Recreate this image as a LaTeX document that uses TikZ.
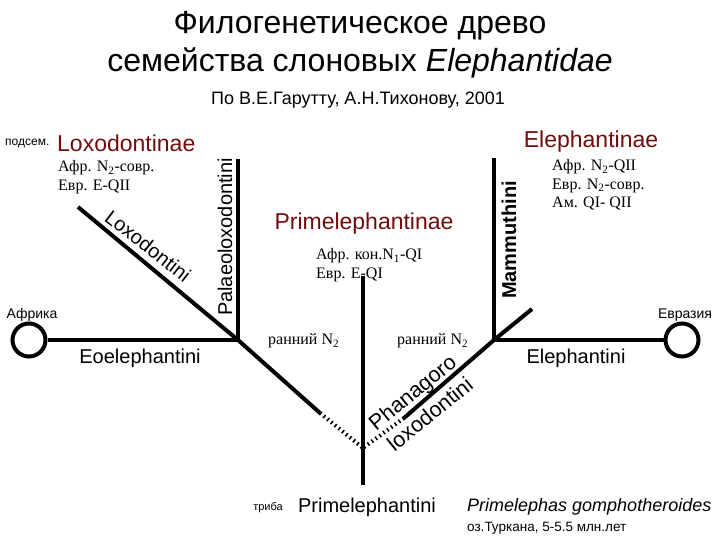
\documentclass[tikz,border=0pt]{standalone}
\usepackage{fontspec}
\setmainfont{Liberation Sans}
\newfontfamily\serifr{Liberation Serif}
\usetikzlibrary{positioning}
\definecolor{subfam}{RGB}{112,12,12}
\tikzset{
  branch/.style={line width=4pt},
  dotbranch/.style={line width=4pt, dash pattern=on 1.6pt off 3.2pt},
  areacircle/.style={circle, draw, line width=4pt, minimum size=33pt, inner sep=0pt},
  subfamily/.style={text=subfam, font=\fontsize{23}{26}\selectfont},
  tribename/.style={font=\fontsize{20}{22}\selectfont},
  agerange/.style={align=left, anchor=west, inner sep=0pt, font=\serifr\fontsize{16}{18.5}\selectfont},
  plaintext/.style={inner sep=0pt, font=\fontsize{#1}{#1}\selectfont},
}
\newcommand{\lowsub}[1]{\textsubscript{#1}}
\begin{document}
\begin{tikzpicture}[x=1pt,y=-1pt]
  \useasboundingbox (0,0) rectangle (720,540);

  % title
  \node[plaintext=32] (title1) at (360,26) {Филогенетическое древо};
  \node[plaintext=32] (title2) at (360,63) {семейства слоновых \textit{Elephantidae}};
  \node[plaintext=18] (credit) at (358,100) {По В.Е.Гарутту, А.Н.Тихонову, 2001};

  % regions
  \node[areacircle] (africa) at (29,340) {};
  \node[areacircle] (eurasia) at (682,340) {};
  \node[plaintext=14] (africalbl) at (32,315) {Африка};
  \node[plaintext=14] (eurasialbl) at (685,315) {Евразия};

  % junctions
  \coordinate (jL) at (238,340);
  \coordinate (jR) at (494,340);
  \coordinate (jB) at (363,448);
  \coordinate (loxtop) at (78,207);
  \coordinate (loxend) at (320,413);
  \coordinate (paltop) at (238,159);
  \coordinate (mamtop) at (494,158);
  \coordinate (trunktop) at (363,276);
  \coordinate (trunkend) at (363,485);
  \coordinate (eltip) at (532,309);
  \coordinate (phaend) at (404,418);

  % branches
  \draw[branch] (africa) -- (jL);
  \draw[branch] (loxtop) -- (jL) -- (loxend);
  \draw[dotbranch] (loxend) -- (jB);
  \draw[branch] (paltop) -- (jL);
  \draw[branch] (trunktop) -- (trunkend);
  \draw[branch] (mamtop) -- (jR);
  \draw[branch] (jR) -- (eurasia);
  \draw[branch] (eltip) -- (jR) -- (phaend);
  \draw[dotbranch] (phaend) -- (jB);

  % subfamilies
  \node[plaintext=12, anchor=west] (subfamlbl) at (5,143) {подсем.};
  \node[subfamily, anchor=west, inner sep=0pt] (loxodontinae) at (57,143) {Loxodontinae};
  \node[subfamily, inner sep=0pt] (primelephantinae) at (364,224) {Primelephantinae};
  \node[subfamily, inner sep=0pt] (elephantinae) at (591,142) {Elephantinae};

  % ranges
  \node[agerange] (loxrange) at (58,177) {Афр. N\lowsub{2}-совр.\\Евр. E-QII};
  \node[agerange] (primrange) at (316,265) {Афр. кон.N\lowsub{1}-QI\\Евр. E-QI};
  \node[agerange] (elrange) at (552,185) {Афр. N\lowsub{2}-QII\\Евр. N\lowsub{2}-совр.\\Ам. QI- QII};
  \node[agerange] (earlyL) at (268,341) {ранний N\lowsub{2}};
  \node[agerange] (earlyR) at (397,341) {ранний N\lowsub{2}};

  % tribes
  \node[tribename, rotate=-38, inner sep=0pt] (loxodontini) at (148,246) {Loxodontini};
  \node[tribename, rotate=90, inner sep=0pt] (palaeo) at (225,237) {Palaeoloxodontini};
  \node[rotate=90, inner sep=0pt, font=\fontsize{20}{22}\selectfont\bfseries] (mammuthini) at (509,240) {Mammuthini};
  \node[rotate=39, align=center, inner sep=0pt, font=\fontsize{21.5}{28}\selectfont] (phanagoro) at (421,403) {Phanagoro\\loxodontini};
  \node[tribename, inner sep=0pt] (eoelephantini) at (140,358) {Eoelephantini};
  \node[tribename, inner sep=0pt] (elephantini) at (576,358) {Elephantini};

  % bottom
  \node[plaintext=11] (tribelbl) at (268,508) {триба};
  \node[tribename, inner sep=0pt] (primelephantini) at (367,507) {Primelephantini};
  \node[anchor=west, inner sep=0pt, font=\fontsize{18}{18}\selectfont\itshape] (species) at (467,507) {Primelephas gomphotheroides};
  \node[plaintext=13.5, anchor=west] (turkana) at (467,528) {оз.Туркана, 5-5.5 млн.лет};

\end{tikzpicture}
\end{document}
